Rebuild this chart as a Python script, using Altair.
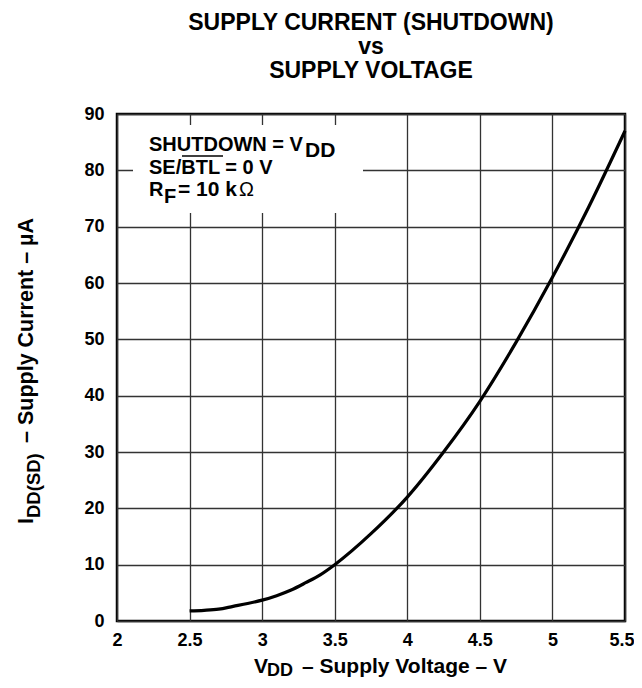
import altair as alt
import pandas as pd

# ---- data ----
voltage = [2.5, 2.6, 2.7, 2.8, 2.9, 3.0, 3.1, 3.2, 3.3, 3.4, 3.5, 3.75, 4.0, 4.25, 4.5, 4.75, 5.0, 5.25, 5.5]
current = [1.8, 1.9, 2.1, 2.6, 3.1, 3.7, 4.5, 5.5, 6.8, 8.2, 10.0, 15.5, 22.0, 30.0, 39.0, 49.5, 61.0, 73.5, 87.0]
x_ticks = [2, 2.5, 3, 3.5, 4, 4.5, 5, 5.5]
y_ticks = [0, 10, 20, 30, 40, 50, 60, 70, 80, 90]
title_lines = ["SUPPLY CURRENT (SHUTDOWN)", "vs", "SUPPLY VOLTAGE"]

FONT = "Liberation Sans"
df = pd.DataFrame({"V": voltage, "I": current})
anchor_df = pd.DataFrame({"a": [0]})


def label(text, x, y, size=20, weight="bold", align="left", angle=0):
    return alt.Chart(anchor_df).mark_text(
        text=text, font=FONT, fontSize=size, fontWeight=weight, align=align,
        baseline="alphabetic", angle=angle, color="black"
    ).encode(x=alt.value(x), y=alt.value(y))


axis_common = dict(
    title=None, grid=True, gridColor="#333333", gridWidth=1.3, domain=False,
    ticks=False, labelFont=FONT, labelFontSize=18, labelFontWeight="bold",
    labelColor="black", labelFlush=False, labelOverlap=False,
)

line = alt.Chart(df).mark_line(color="black", strokeWidth=3.2, interpolate="monotone").encode(
    x=alt.X("V:Q", scale=alt.Scale(domain=[2, 5.5], nice=False, zero=False),
            axis=alt.Axis(values=x_ticks, labelPadding=10, format=".1~f",
                          labelOffset={"condition": {"test": "datum.value >= 5.5", "value": -3.5}, "value": 0},
                          **axis_common)),
    y=alt.Y("I:Q", scale=alt.Scale(domain=[0, 90], nice=False),
            axis=alt.Axis(values=y_ticks, labelPadding=13, format="d", **axis_common)),
)

box = alt.Chart(anchor_df).mark_rect(fill="white").encode(
    x=alt.value(16), x2=alt.value(246), y=alt.value(11), y2=alt.value(99)
)

overline = alt.Chart(anchor_df).mark_rule(color="black", strokeWidth=1.6).encode(
    x=alt.value(65), x2=alt.value(106), y=alt.value(42)
)

layers = [
    line, box, overline,
    # inset legend text
    label("SHUTDOWN = V", 32, 37),
    label("DD", 188, 43, size=21),
    label("SE/BTL = 0 V", 32, 60),
    label("R", 32, 82),
    label("F", 47, 89),
    label("= 10 k", 61, 82, size=21),
    label("Ω", 122, 82, weight="normal"),
    # x-axis title
    label("V", 137, 559, size=21),
    label("DD", 150, 562, size=18),
    label("– Supply Voltage – V", 185, 559, size=21),
    # y-axis title (rotated)
    label("I", -84, 410, size=21.5, angle=270),
    label("DD(SD)", -77, 404, size=18.5, angle=270),
    label("– Supply Current – µA", -84, 329, size=21.5, angle=270),
]

chart = alt.layer(*layers).properties(
    width=508, height=507,
    padding={"left": 109, "top": 106, "right": 9, "bottom": 59},
    autosize=alt.AutoSizeParams(type="none"),
    title=alt.TitleParams(
        text=title_lines, font=FONT, fontSize=23, fontWeight="bold", color="black",
        anchor="middle", frame="group", offset=22, lineHeight=24,
    ),
).configure_view(stroke="black", strokeWidth=2.5)

chart.save("out.html", embed_options={"renderer": "svg", "actions": False})
